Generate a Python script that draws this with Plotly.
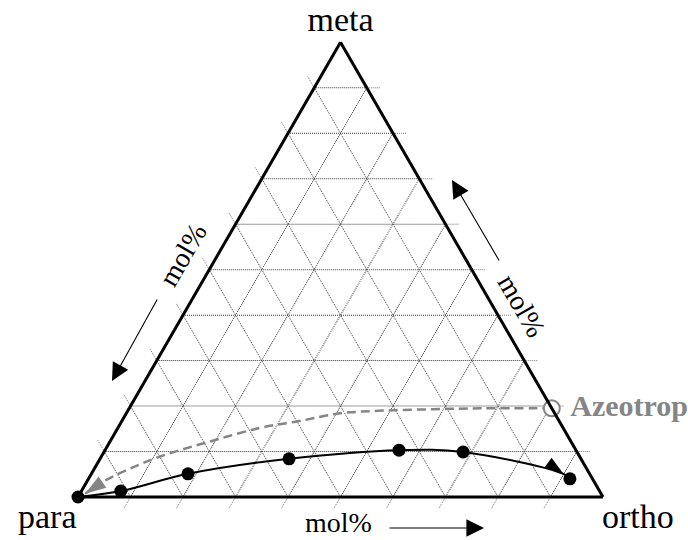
import math
import plotly.graph_objects as go

W, H = 688, 540

# Liquid compositions in mol% (meta, ortho); para is the remainder
curve_meta = [0.0, 1.3, 5.1, 8.4, 10.3, 9.9, 4.0]
curve_ortho = [0.0, 7.5, 18.4, 36.0, 56.0, 68.4, 91.7]

# Arrow tip on the black curve, just ahead of its last point
arrow_meta = 5.1
arrow_ortho = 89.9

# Grey dashed boundary running from the azeotrope to pure para
bound_meta = [19.5, 19.5, 19.3, 19.0, 18.4, 16.7, 15.2, 12.2, 8.9, 5.9, 3.4, 0.7]
bound_ortho = [80.5, 66.8, 58.0, 48.6, 40.7, 33.8, 27.1, 19.0, 11.2, 6.3, 3.1, 1.0]

# Azeotrope on the meta/ortho edge
azeo_meta = [19.5]
azeo_ortho = [80.5]

grid_ticks = [10, 20, 30, 40, 50, 60, 70, 80, 90]


def para(meta, ortho):
    return [round(100 - m - o, 3) for m, o in zip(meta, ortho)]


# Triangle placement (pixels): bottom-left corner and side length
X0, YB, SIDE = 78.0, 497.0, 525.0
HT = SIDE * math.sqrt(3) / 2
YT = YB - HT

GREY = "#858585"
GRID = "#3a3a3a"
SERIF = "Liberation Serif"


def to_px(meta, ortho):
    return X0 + SIDE * (ortho / 100 + meta / 200), YB - HT * meta / 100


def px_to_paper(x, y):
    return x / W, 1 - y / H


fig = go.Figure()

# Black curve: measured points, with the arrow tip slotted in before the final point
n_c = len(curve_meta)
path_meta = curve_meta[:-1] + [arrow_meta] + curve_meta[-1:]
path_ortho = curve_ortho[:-1] + [arrow_ortho] + curve_ortho[-1:]
fig.add_trace(go.Scatterternary(
    a=path_meta, b=para(path_meta, path_ortho), c=path_ortho,
    mode="lines+markers", cliponaxis=False,
    line=dict(color="black", width=2, shape="spline", smoothing=1),
    marker=dict(size=[13] * (n_c - 1) + [20, 13],
                symbol=["circle"] * (n_c - 1) + ["arrow", "circle"],
                angle=[0] * (n_c - 1) + [126, 0],
                color="black", opacity=1, line=dict(width=0)),
))

n_b = len(bound_meta)
fig.add_trace(go.Scatterternary(
    a=bound_meta, b=para(bound_meta, bound_ortho), c=bound_ortho,
    mode="lines+markers", cliponaxis=False, hoverinfo="skip",
    line=dict(color=GREY, width=2.5, dash="9px,5px", shape="spline"),
    marker=dict(size=[0] * (n_b - 1) + [22],
                symbol=["circle"] * (n_b - 1) + ["arrow"],
                angle=[0] * (n_b - 1) + [236],
                color=GREY, opacity=1, line=dict(width=0)),
))

fig.add_trace(go.Scatterternary(
    a=azeo_meta, b=para(azeo_meta, azeo_ortho), c=azeo_ortho,
    mode="markers+text", cliponaxis=False,
    text=["\u00a0Azeotrop"], textposition="middle right",
    textfont=dict(family=SERIF, size=30, color=GREY, weight="bold"),
    marker=dict(size=16, color="white", symbol="circle", line=dict(color=GREY, width=2)),
))

axis_style = dict(
    showticklabels=False, ticks="", tick0=0, dtick=10,
    showgrid=True, gridcolor=GRID, gridwidth=0.7, griddash="1px,1px",
    showline=True, linecolor="black", linewidth=3,
)

label_font = dict(family=SERIF, size=34, color="black")
mol_font = dict(family=SERIF, size=28, color="black")

fig.update_layout(
    width=W, height=H,
    margin=dict(l=0, r=0, t=0, b=0),
    paper_bgcolor="white",
    showlegend=False,
    ternary=dict(
        sum=100,
        bgcolor="white",
        domain=dict(x=[X0 / W, (X0 + SIDE) / W], y=[1 - YB / H, 1 - YT / H]),
        aaxis=dict(title=dict(text="meta", font=label_font), **axis_style),
        baxis=dict(title=dict(text=""), **axis_style),
        caxis=dict(title=dict(text=""), **axis_style),
    ),
)

# Short outward continuations of the grid lines beyond each edge
L = 13.0
shapes = []
for v in grid_ticks:
    ends = [
        (to_px(v, 100 - v), (L, 0.0)),                      # meta lines past the right edge
        (to_px(100 - v, 0.0), (-0.5 * L, -0.866 * L)),      # para lines past the left edge
        (to_px(0.0, v), (-0.5 * L, 0.866 * L)),             # ortho lines below the base
    ]
    for (x, y), (dx, dy) in ends:
        x1, y1 = px_to_paper(x, y)
        x2, y2 = px_to_paper(x + dx, y + dy)
        shapes.append(dict(type="line", xref="paper", yref="paper", x0=x1, y0=y1, x1=x2, y1=y2,
                           line=dict(color=GRID, width=0.7, dash="1px,1px"), layer="below"))
fig.update_layout(shapes=shapes)


def text_ann(x, y, text, font, angle=0):
    px, py = px_to_paper(x, y)
    return dict(x=px, y=py, xref="paper", yref="paper", text=text, showarrow=False,
                font=font, textangle=angle, xanchor="center", yanchor="middle")


def arrow_ann(tail, tip):
    px, py = px_to_paper(*tip)
    return dict(x=px, y=py, xref="paper", yref="paper", text="", showarrow=True,
                ax=tail[0] - tip[0], ay=tail[1] - tip[1], axref="pixel", ayref="pixel",
                arrowhead=2, arrowsize=3.2, arrowwidth=1.1, arrowcolor="black", standoff=0)


fig.update_layout(annotations=[
    text_ann(47, 516, "para", label_font),
    text_ann(638, 516, "ortho", label_font),
    text_ann(338, 522, "mol%", mol_font),
    text_ann(182, 255, "mol%", mol_font, -60),
    text_ann(522, 305, "mol%", mol_font, 60),
    arrow_ann((388, 528), (484, 528)),
    arrow_ann((158, 298), (112, 381)),
    arrow_ann((500, 262), (452, 180)),
])

fig.write_html("out.html")
